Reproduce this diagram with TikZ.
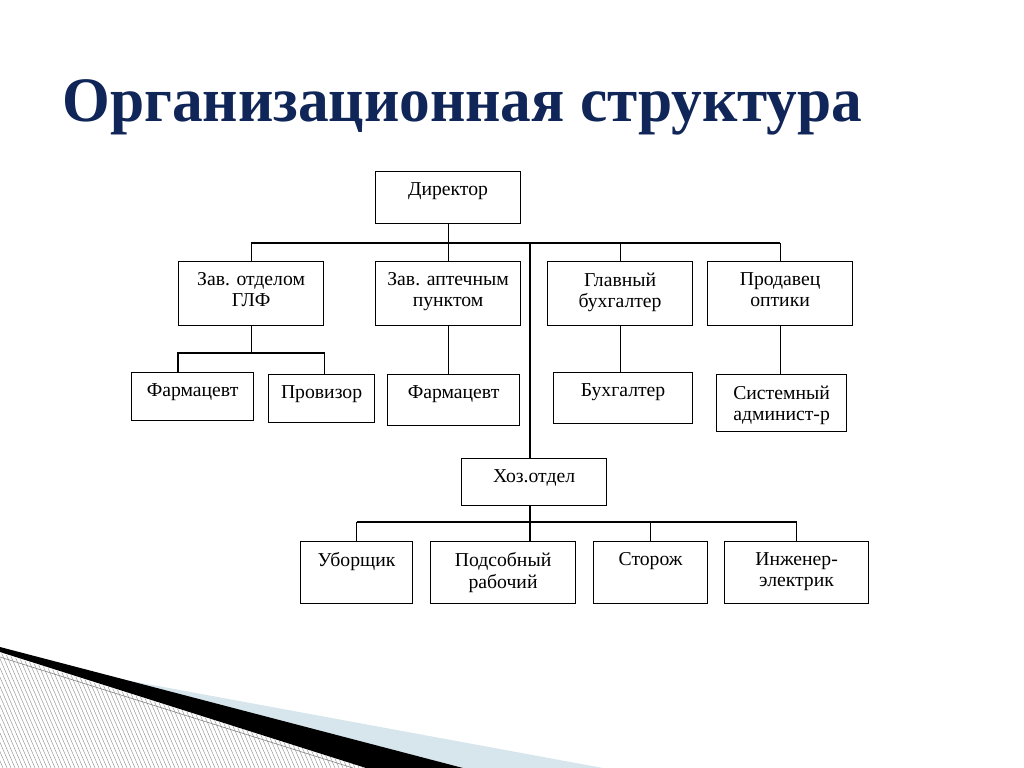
\documentclass[tikz,border=0pt]{standalone}
\usepackage{fontspec}
\setmainfont{Liberation Serif}
\usepackage{xcolor}
\usepackage{tikz}
\usetikzlibrary{positioning}
\definecolor{TitleBlue}{RGB}{16,38,88}
\definecolor{PaleBlue}{RGB}{214,230,236}

\begin{document}
\begin{tikzpicture}[x=0.025cm, y=-0.025cm,
    box/.style 2 args={draw, line width=0.8pt, anchor=north west,
      minimum width=#1*0.025cm, minimum height=#2*0.025cm, inner sep=0pt},
    boxtext/.style={anchor=north, align=center, inner xsep=0pt, inner ysep=8pt,
      font=\fontsize{14}{15.2}\selectfont},
    conn/.style={line width=0.8pt},
    title/.style={anchor=base west, inner sep=0pt, text=TitleBlue,
      font=\bfseries\fontsize{45}{50}\selectfont}]
    \useasboundingbox (0,0) rectangle (1024,768);

    % slide decoration
    \fill[PaleBlue] (120,679) -- (603,768) -- (463,768) -- cycle;
    \fill[black] (0,647) -- (463,768) -- (366,768) -- (0,652) -- cycle;
    \begin{scope}
      \clip (0,653) -- (366,768) -- (0,768) -- cycle;
      \foreach \i in {-60,-56,...,370}
        \draw[gray!80, line width=0.35pt] (\i,640) -- (\i+55,768);
    \end{scope}
    \draw[gray, line width=0.4pt] (0,657) -- (353,768);

    \node[title] (title) at (62,122) {\scalebox{0.97}[1]{Организационная структура}};

    % boxes
    \node[box={145}{52}, label={[boxtext]north:Директор}] (dir) at (375,171) {};
    \node[box={145}{64}, label={[boxtext]north:Зав. отделом\\ГЛФ}] (glf) at (178,261) {};
    \node[box={145}{64}, label={[boxtext]north:Зав. аптечным\\пунктом}] (apt) at (375,261) {};
    \node[box={145}{64}, label={[boxtext]north:Главный\\бухгалтер}] (gbuh) at (547,261) {};
    \node[box={145}{64}, label={[boxtext]north:Продавец\\оптики}] (opt) at (707,261) {};
    \node[box={122}{48}, label={[boxtext]north:Фармацевт}] (farm) at (131,372) {};
    \node[box={106}{48}, label={[boxtext]north:Провизор}] (prov) at (268,374) {};
    \node[box={132}{51}, label={[boxtext]north:Фармацевт}] (afarm) at (387,374) {};
    \node[box={139}{51}, label={[boxtext]north:Бухгалтер}] (buh) at (553,372) {};
    \node[box={130}{57}, label={[boxtext]north:Системный\\админист-р}] (sys) at (716,374) {};
    \node[box={145}{47}, label={[boxtext]north:Хоз.отдел}] (hoz) at (461,458) {};
    \node[box={112}{62}, label={[boxtext]north:Уборщик}] (ubor) at (300,541) {};
    \node[box={145}{62}, label={[boxtext]north:Подсобный\\рабочий}] (pods) at (430,541) {};
    \node[box={114}{62}, label={[boxtext]north:Сторож}] (stor) at (593,541) {};
    \node[box={144}{62}, label={[boxtext]north:Инженер-\\электрик}] (ing) at (724,541) {};

    % connectors
    \coordinate (bus) at (0,243);
    \coordinate (glfbus) at (0,353);
    \coordinate (hozbus) at (0,522);
    \coordinate (hozline) at (530,0);
    \draw[conn] (dir.south) -- (dir.south |- bus);
    \draw[conn] (glf.north |- bus) -- (opt.north |- bus);
    \draw[conn] (glf.north) -- (glf.north |- bus);
    \draw[conn] (apt.north) -- (apt.north |- bus);
    \draw[conn] (gbuh.north) -- (gbuh.north |- bus);
    \draw[conn] (opt.north) -- (opt.north |- bus);
    \draw[conn] (hozline |- hoz.north) -- (hozline |- bus);
    \draw[conn] (glf.south) -- (glf.south |- glfbus);
    \draw[conn] (glf.south west |- farm.north) -- (glf.south west |- glfbus)
      -- (glf.south east |- glfbus) -- (glf.south east |- prov.north);
    \draw[conn] (apt.south) -- (apt.south |- afarm.north);
    \draw[conn] (gbuh.south) -- (gbuh.south |- buh.north);
    \draw[conn] (opt.south) -- (opt.south |- sys.north);
    \draw[conn] (hozline |- hoz.south) -- (hozline |- pods.north);
    \draw[conn] (ubor.north |- hozbus) -- (ing.north |- hozbus);
    \draw[conn] (ubor.north) -- (ubor.north |- hozbus);
    \draw[conn] (stor.north) -- (stor.north |- hozbus);
    \draw[conn] (ing.north) -- (ing.north |- hozbus);
\end{tikzpicture}
\end{document}
